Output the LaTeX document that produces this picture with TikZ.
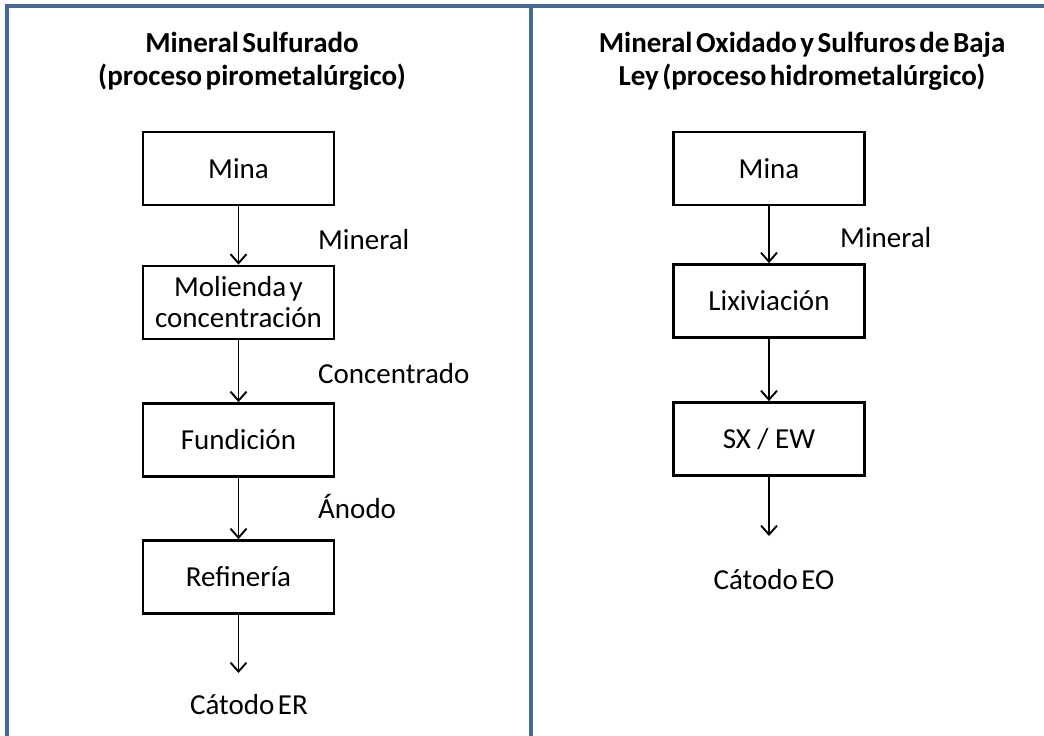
\documentclass[tikz,border=0pt]{standalone}
\usepackage{fontspec}
\setmainfont{Carlito}
\usetikzlibrary{arrows.meta}
\newcommand{\tightsp}{\spaceskip=0.12em plus 0.05em\relax}
\begin{document}
\begin{tikzpicture}[x=1pt,y=-1pt,
  frame/.style={draw=framecol,line width=3.6pt},
  stepbox/.style={draw=black,line width=2.8pt,minimum width=191pt,minimum height=73pt,
    inner sep=0pt,align=center,font=\fontsize{29}{31}\selectfont\tightsp},
  flow/.style={line width=1.9pt,-{Straight Barb[length=9pt,width=16pt,line width=1.9pt]}},
  lbl/.style={font=\fontsize{29}{32}\selectfont\tightsp,inner sep=0pt},
  ttl/.style={font=\bfseries\fontsize{29}{33}\selectfont\tightsp,align=center,inner sep=0pt}]
\definecolor{framecol}{RGB}{70,104,155}
\useasboundingbox (0,0) rectangle (1044,736);
% panel frame
\coordinate (fTL) at (7,6);
\coordinate (fTR) at (1050,6);
\coordinate (fBL) at (7,745);
\coordinate (mT) at (531,6);
\coordinate (mB) at (531,745);
\draw[frame] (fBL) -- (fTL) -- (fTR);
\draw[frame] (mT) -- (mB);

% left panel: pyrometallurgical route
\node[ttl] (tl) at (252,61) {Mineral Sulfurado\\(proceso pirometalúrgico)};
\node[stepbox] (l1) at (238.5,168.5) {Mina};
\node[stepbox] (l2) at (238.5,302.5) {Molienda y\\concentración};
\node[stepbox] (l3) at (238.5,440) {Fundición};
\node[stepbox] (l4) at (238.5,577) {Refinería};
\coordinate (l5) at (238.5,673);
\node[lbl] (l6) at (249,705) {Cátodo ER};
\draw[flow] (l1.south) -- (l2.north);
\draw[flow] (l2.south) -- (l3.north);
\draw[flow] (l3.south) -- (l4.north);
\draw[flow] (l4.south) -- (l5);
\node[lbl,anchor=west] (a1) at (318,240) {Mineral};
\node[lbl,anchor=west] (a2) at (318,374) {Concentrado};
\node[lbl,anchor=west] (a3) at (318,506) {Ánodo};

% right panel: hydrometallurgical route
\node[ttl] (tr) at (802,61) {Mineral Oxidado y Sulfuros de Baja\\Ley (proceso hidrometalúrgico)};
\node[stepbox] (r1) at (769,168.5) {Mina};
\node[stepbox] (r2) at (769,301) {Lixiviación};
\node[stepbox,font=\fontsize{29}{31}\selectfont] (r3) at (769,439) {SX / EW};
\coordinate (r4) at (769,536);
\node[lbl] (r5) at (774,580) {Cátodo EO};
\draw[flow] (r1.south) -- (r2.north);
\draw[flow] (r2.south) -- (r3.north);
\draw[flow] (r3.south) -- (r4);
\node[lbl,anchor=west] (b1) at (840,238) {Mineral};
\end{tikzpicture}
\end{document}
